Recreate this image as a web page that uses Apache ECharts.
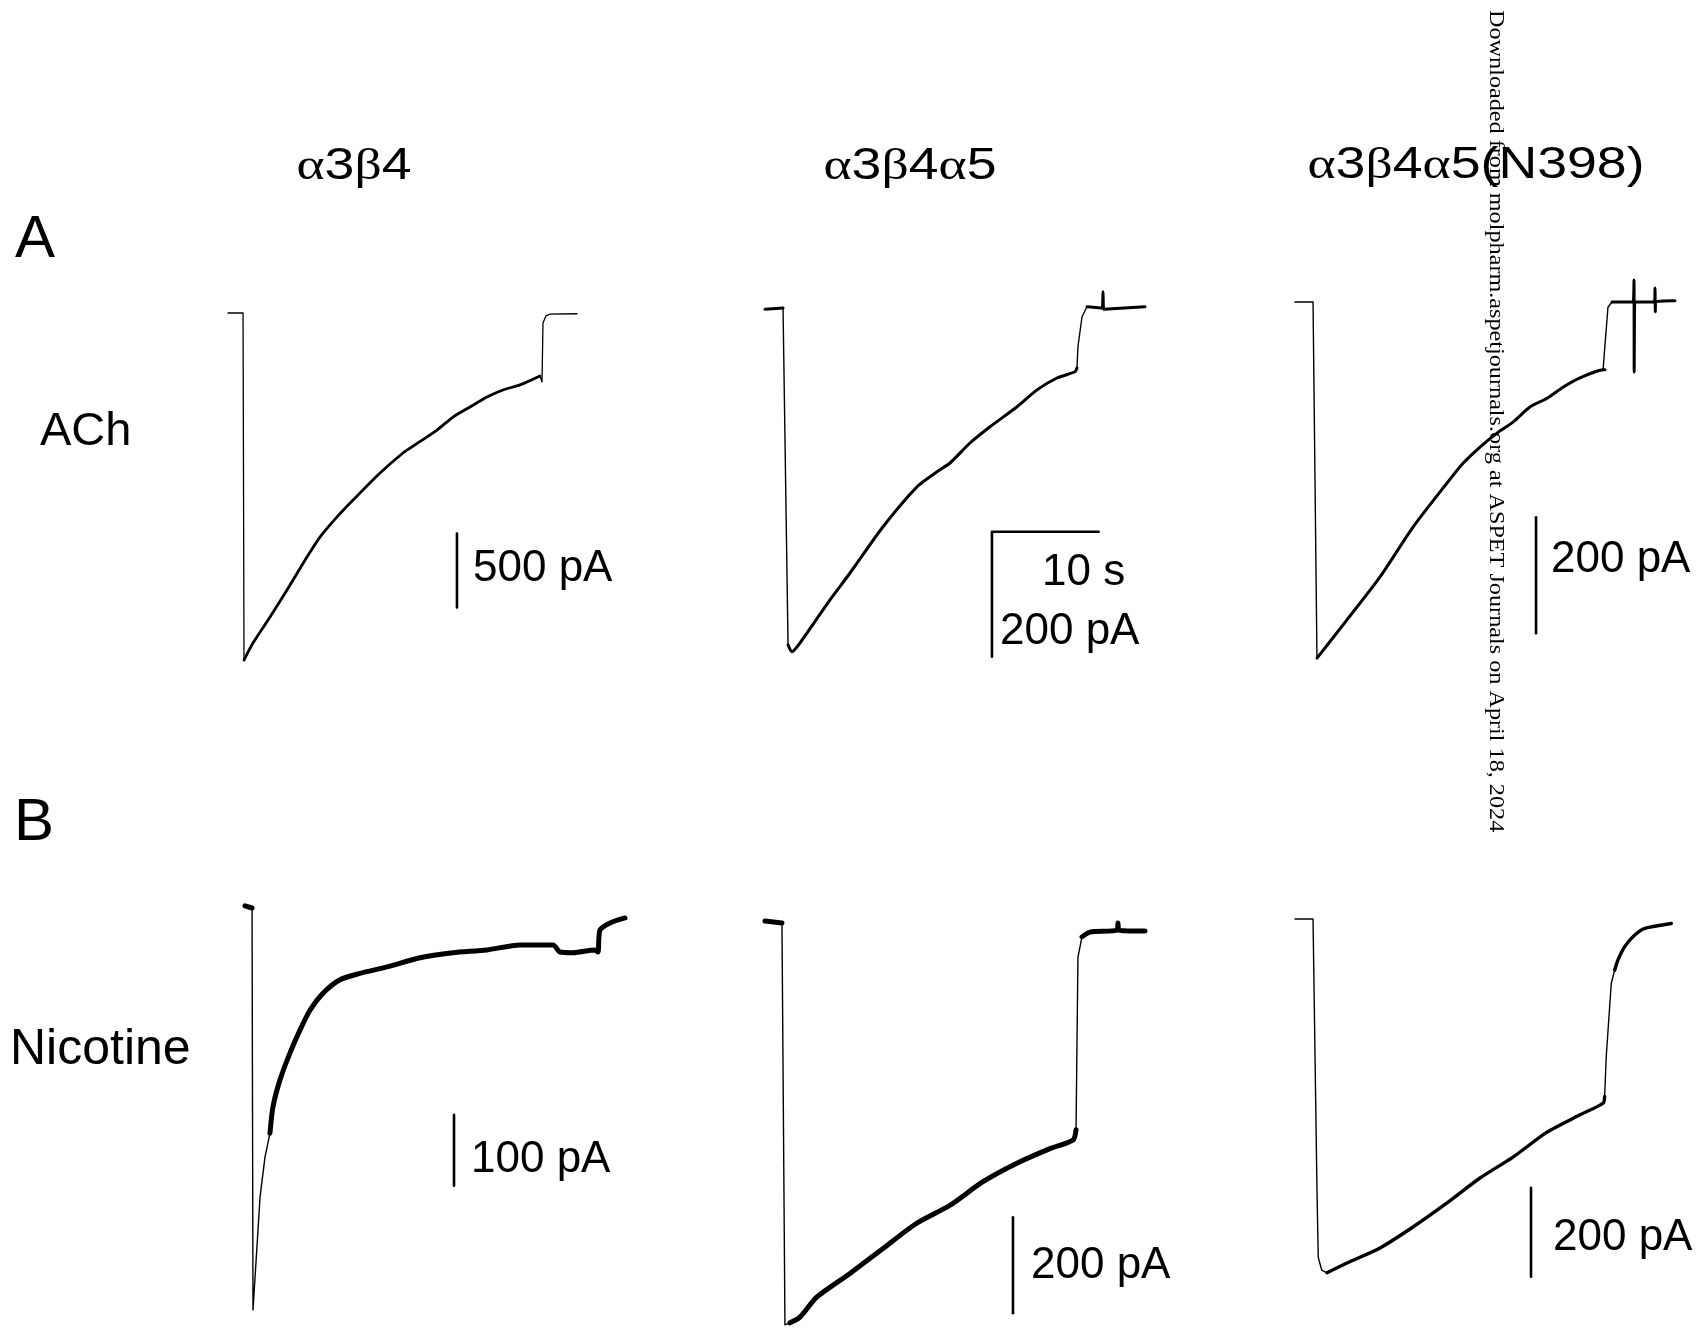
<!DOCTYPE html>
<html>
<head>
<meta charset="utf-8">
<title>a3b4 currents</title>
<script src="https://cdn.jsdelivr.net/npm/echarts@6.0.0/dist/echarts.min.js"></script>
<style>
    html, body {margin: 0; padding: 0; background: #fff;}
    #chart {width: 1701px; height: 1336px;}
</style>
</head>
<body>
<div id="chart"></div>
<script>
    // 每条记录: [时间 s, 电流 pA]，基线为 0
    var traceA1 = [[0, 0], [1.41, 0], [1.50, -2345], [2.34, -2230], [3.94, -2054], [5.53, -1872], [7.40, -1649],
        [8.62, -1514], [10.22, -1378], [11.72, -1264], [14.25, -1081], [16.40, -946], [17.34, -900], [19.59, -791],
        [21.09, -703], [22.68, -635], [24.27, -568], [25.77, -520], [27.37, -486], [29.24, -426], [29.43, -466],
        [29.52, -68], [29.80, -20], [30.18, -7], [32.71, -5]];
    var traceA2 = [[0, -2], [1.69, 0], [1.78, -3], [2.16, -539], [2.53, -550], [3.28, -536], [6.09, -467],
        [7.97, -424], [11.06, -350], [14.25, -286], [16.12, -262], [17.34, -248], [19.21, -216], [21.09, -190],
        [23.62, -158], [25.49, -131], [27.37, -112], [29.05, -102], [29.24, -96], [29.33, -62], [29.71, -14],
        [30.18, 2], [31.60, 0], [31.68, 26], [31.74, -2], [35.61, 2]];
    var traceA3 = [[0, 0], [1.69, 0], [2.06, -614], [4.87, -548], [7.97, -474], [11.06, -388], [14.25, -312],
        [15.75, -278], [17.34, -250], [18.93, -226], [20.43, -207], [22.02, -181], [23.62, -166], [25.12, -147],
        [26.71, -131], [28.87, -117], [29.05, -117], [29.33, -9], [29.71, 0], [31.70, 0], [31.77, 38],
        [31.79, -121], [31.85, 0], [33.70, 0], [33.74, 24], [33.77, -17], [33.80, 0], [35.61, 2]];
    var traceB1 = [[0, 3], [0.66, 0], [0.75, -566], [1.12, -477], [1.41, -407], [1.87, -351], [2.34, -317],
        [2.62, -280], [3.28, -242], [4.22, -204], [5.15, -172], [6.09, -144], [7.31, -120], [8.90, -101],
        [10.78, -92], [13.31, -83], [16.40, -70], [19.49, -63], [22.68, -59], [25.77, -52], [28.87, -52],
        [29.52, -62], [30.74, -63], [32.80, -59], [33.08, -62], [33.27, -31], [34.21, -21], [35.61, -14]];
    var traceB2 = [[0, 2], [1.59, -2], [1.87, -839], [2.34, -835], [3.28, -823], [4.87, -781], [7.97, -732],
        [11.06, -680], [14.18, -628], [17.34, -590], [20.43, -541], [23.56, -503], [26.71, -472], [28.87, -454],
        [29.15, -433], [29.33, -73], [29.71, -31], [30.46, -21], [33.00, -17], [33.08, -2], [33.16, -17],
        [35.61, -19]];
    var traceB3 = [[0, 0], [1.69, 0], [2.06, -609], [2.18, -760], [2.50, -789], [3.00, -795], [4.87, -773],
        [7.97, -739], [11.06, -692], [14.25, -638], [17.34, -582], [20.43, -535], [23.62, -479], [26.71, -440],
        [28.87, -414], [29.02, -399], [29.17, -309], [29.49, -197], [29.64, -145], [29.96, -115], [30.27, -92],
        [30.90, -62], [31.84, -36], [32.78, -21], [35.27, -10]];

    // 标尺 (s, pA)
    var barA1 = [[21.46, -1990], [21.46, -1490]];
    var barA2 = [[31.27, -358], [21.27, -358], [21.27, -558]];
    var barA3 = [[22.59, -571], [22.59, -371]];
    var barB1 = [[19.59, -391], [19.59, -291]];
    var barB2 = [[23.24, -815], [23.24, -615]];
    var barB3 = [[22.12, -804], [22.12, -604]];

    var receptorLabels = ['{g|α}3{g|β}4', '{g|α}3{g|β}4{g|α}5', '{g|α}3{g|β}4{g|α}5(N398)'];
    var panelLetters = ['A', 'B'];
    var agonistLabels = ['ACh', 'Nicotine'];
    var barLabels = ['500 pA', '10 s', '200 pA', '200 pA', '100 pA', '200 pA', '200 pA'];
    var watermark = 'Downloaded from molpharm.aspetjournals.org at ASPET Journals on April 18, 2024';

    var PX_PER_S = 10.67;
    var T_MAX = 38;
    var SANS = '"Liberation Sans", Arial, sans-serif';
    var SERIF = '"Liberation Serif", "Times New Roman", serif';

    // 每个面板的位置和比例 (pA / px)
    var panels = [
        {trace: traceA1, bar: barA1, x0: 228, y0: 313, pApx: 6.757, iMin: -2400, iMax: 100, thin: 1.3, thick: 2.8, ranges: [[2, 19]]},
        {trace: traceA2, bar: barA2, x0: 765, y0: 308, pApx: 1.6, iMin: -600, iMax: 100, thin: 1.4, thick: 3, ranges: [[0, 1], [3, 18], [21, 25]]},
        {trace: traceA3, bar: barA3, x0: 1295, y0: 302, pApx: 1.724, iMin: -650, iMax: 100, thin: 1.4, thick: 3, ranges: [[2, 16], [18, 27]]},
        {trace: traceB1, bar: barB1, x0: 245, y0: 908, pApx: 1.408, iMin: -600, iMax: 100, thin: 1.4, thick: 5, ranges: [[0, 1], [6, 27]]},
        {trace: traceB2, bar: barB2, x0: 765, y0: 922, pApx: 2.083, iMin: -860, iMax: 100, thin: 1.4, thick: 5, ranges: [[0, 1], [3, 14], [16, 21]]},
        {trace: traceB3, bar: barB3, x0: 1295, y0: 919, pApx: 2.247, iMin: -850, iMax: 100, thin: 1.4, thick: 3.4, ranges: [[5, 15], [19, 24]]}
    ];

    var line_series = function (k, data, width, smooth) {
        return {
            type: 'line', xAxisIndex: k, yAxisIndex: k, data: data,
            symbol: 'none', showSymbol: false, clip: false, silent: true,
            smooth: smooth || false,
            lineStyle: {color: '#000', width: width, join: 'round', cap: 'round'}
        };
    };

    var text_el = function (str, x, y, size, align, sx) {
        return {
            type: 'text', x: x, y: y, z: 10, silent: true, scaleX: sx || 1,
            style: {
                text: str, fill: '#000', fontSize: size, fontFamily: SANS,
                align: align, textAlign: align, verticalAlign: 'middle', textVerticalAlign: 'middle',
                rich: {g: {fontFamily: SERIF, fontSize: size, fill: '#000'}}
            }
        };
    };

    var option = {
        animation: false,
        backgroundColor: '#fff',
        grid: [], xAxis: [], yAxis: [], series: [], graphic: []
    };

    panels.forEach(function (p, k) {
        option.grid.push({
            left: p.x0, top: p.y0 - p.iMax / p.pApx,
            width: T_MAX * PX_PER_S, height: (p.iMax - p.iMin) / p.pApx
        });
        option.xAxis.push({type: 'value', gridIndex: k, min: 0, max: T_MAX, show: false});
        option.yAxis.push({type: 'value', gridIndex: k, min: p.iMin, max: p.iMax, show: false});
        option.series.push(line_series(k, p.trace, p.thin));
        p.ranges.forEach(function (r) {
            option.series.push(line_series(k, p.trace.slice(r[0], r[1] + 1), p.thick, 0.25));
        });
        option.series.push(line_series(k, p.bar, 2.6));
    });

    var g = option.graphic;
    g.push(text_el(receptorLabels[0], 354, 167, 44, 'center', 1.22));
    g.push(text_el(receptorLabels[1], 910, 167, 44, 'center', 1.22));
    g.push(text_el(receptorLabels[2], 1476, 166, 44, 'center', 1.22));
    g.push(text_el(panelLetters[0], 15, 240, 60, 'left'));
    g.push(text_el(panelLetters[1], 14, 823, 60, 'left'));
    g.push(text_el(agonistLabels[0], 40, 432, 47, 'left'));
    g.push(text_el(agonistLabels[1], 10, 1050, 50, 'left'));
    g.push(text_el(barLabels[0], 473, 569, 44, 'left'));
    g.push(text_el(barLabels[1], 1042, 573, 44, 'left'));
    g.push(text_el(barLabels[2], 1000, 632, 44, 'left'));
    g.push(text_el(barLabels[3], 1551, 560, 44, 'left'));
    g.push(text_el(barLabels[4], 471, 1160, 44, 'left'));
    g.push(text_el(barLabels[5], 1031, 1266, 44, 'left'));
    g.push(text_el(barLabels[6], 1553, 1238, 44, 'left'));
    g.push({
        type: 'text', x: 1496, y: 10, rotation: -Math.PI / 2, scaleX: 1.1, z: 20, silent: true,
        style: {
            text: watermark, fill: '#000', fontSize: 22, fontFamily: '"Liberation Serif", serif',
            align: 'left', textAlign: 'left', verticalAlign: 'middle', textVerticalAlign: 'middle'
        }
    });

    var chart = echarts.init(document.getElementById('chart'), null, {renderer: 'canvas'});
    chart.setOption(option);
</script>
</body>
</html>
